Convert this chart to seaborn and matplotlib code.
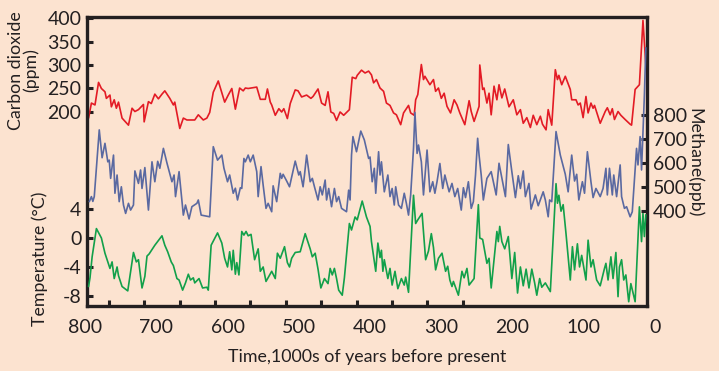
import matplotlib
matplotlib.use("Agg")
import matplotlib.pyplot as plt
import matplotlib.transforms as mtransforms
import seaborn as sns
import pandas as pd

# ---------------- data (time in thousands of years before present) ----------------
co2_time = [795, 791, 786, 781, 777, 772, 770, 765, 763, 759, 756, 753, 748, 739, 734, 730, 725, 718, 717,
            711, 707, 702, 697, 692, 688, 681, 676, 674, 667, 662, 657, 646, 641, 634, 629, 625, 620, 613,
            604, 599, 594, 589, 583, 578, 575, 571, 559, 554, 547, 544, 540, 538, 533, 528, 524, 521, 516,
            512, 505, 501, 496, 489, 483, 480, 473, 468, 463, 459, 455, 451, 447, 442, 437, 429, 425, 420,
            418, 412, 407, 402, 398, 395, 391, 386, 381, 377, 372, 367, 363, 357, 353, 346, 343, 338, 336,
            333, 328, 325, 323, 316, 311, 308, 304, 300, 296, 292, 287, 282, 278, 274, 267, 261, 258, 254,
            247, 246, 242, 240, 236, 233, 230, 226, 222, 219, 215, 211, 205, 199, 194, 189, 185, 180, 175,
            171, 166, 161, 158, 153, 150, 145, 140, 137, 135, 131, 126, 119, 117, 111, 108, 105, 101, 97,
            94, 90, 87, 85, 77, 70, 67, 63, 60, 57, 52, 48, 42, 35, 33, 28, 22, 17, 13]
co2_ppm = [187, 219, 215, 263, 250, 243, 229, 236, 211, 226, 208, 221, 187, 172, 208, 201, 205, 216, 179,
           222, 218, 238, 228, 238, 245, 229, 215, 221, 165, 187, 183, 183, 194, 183, 187, 199, 242, 266,
           221, 236, 250, 206, 251, 245, 251, 250, 253, 227, 227, 249, 221, 215, 193, 207, 200, 207, 186,
           218, 247, 245, 232, 236, 229, 233, 249, 219, 214, 243, 200, 197, 182, 200, 193, 205, 274, 271,
           278, 289, 283, 287, 279, 262, 269, 251, 244, 219, 214, 198, 194, 173, 198, 214, 198, 193, 226,
           237, 301, 269, 276, 258, 269, 244, 251, 229, 240, 212, 198, 226, 215, 198, 173, 224, 201, 180,
           212, 300, 248, 251, 219, 240, 194, 255, 226, 258, 230, 249, 211, 226, 194, 205, 176, 188, 167,
           193, 173, 191, 174, 162, 205, 172, 290, 269, 278, 258, 276, 248, 226, 226, 215, 219, 188, 233,
           198, 219, 208, 214, 176, 201, 209, 194, 207, 184, 201, 193, 184, 174, 172, 248, 258, 395, 300]

ch4_time = [794, 791, 789, 787, 780, 776, 772, 768, 766, 764, 760, 758, 755, 752, 749, 746, 743, 739, 736,
            732, 730, 725, 722, 720, 716, 711, 706, 702, 698, 695, 690, 685, 678, 675, 673, 668, 662, 659,
            654, 650, 643, 641, 637, 625, 620, 614, 608, 605, 600, 597, 592, 589, 586, 582, 580, 577, 575,
            571, 568, 564, 559, 557, 553, 550, 546, 543, 538, 536, 531, 526, 524, 522, 517, 513, 505, 500,
            498, 494, 492, 489, 484, 481, 478, 473, 470, 467, 463, 461, 458, 454, 450, 447, 444, 440, 433,
            430, 428, 426, 424, 419, 413, 408, 402, 400, 397, 394, 392, 388, 386, 384, 380, 375, 372, 369,
            366, 364, 360, 356, 352, 349, 346, 343, 339, 337, 334, 332, 328, 325, 320, 316, 312, 309, 306,
            302, 298, 295, 289, 285, 281, 277, 272, 269, 266, 262, 258, 255, 252, 249, 247, 244, 241, 236,
            230, 227, 223, 219, 214, 210, 206, 201, 196, 192, 189, 185, 182, 177, 174, 168, 164, 157, 154,
            150, 148, 145, 139, 133, 126, 122, 117, 113, 110, 107, 102, 99, 95, 90, 87, 83, 77, 73, 69, 67,
            64, 60, 58, 54, 49, 47, 43, 40, 35, 32, 26, 24, 21, 19, 15, 13]
ch4_ppb = [439, 460, 440, 460, 738, 622, 682, 605, 612, 536, 633, 474, 550, 439, 501, 425, 390, 432, 404,
           425, 567, 515, 571, 494, 581, 404, 605, 522, 607, 578, 661, 600, 522, 550, 460, 564, 383, 425,
           367, 418, 432, 446, 383, 376, 668, 612, 633, 578, 522, 550, 474, 495, 446, 497, 494, 619, 605,
           633, 605, 633, 564, 460, 585, 508, 411, 432, 397, 505, 439, 557, 536, 553, 525, 501, 608, 550,
           564, 501, 550, 633, 522, 536, 501, 446, 501, 467, 529, 446, 494, 418, 494, 439, 460, 411, 397,
           487, 446, 633, 710, 647, 733, 696, 619, 625, 522, 578, 474, 647, 550, 605, 480, 550, 460, 494,
           425, 501, 425, 411, 474, 432, 383, 467, 661, 811, 640, 675, 605, 467, 654, 480, 522, 474, 522,
           598, 494, 550, 480, 515, 460, 494, 404, 497, 456, 522, 411, 439, 550, 703, 633, 550, 446, 536,
           564, 522, 467, 599, 522, 460, 677, 564, 456, 547, 494, 567, 460, 515, 408, 467, 422, 480, 446,
           376, 446, 439, 731, 633, 553, 480, 633, 525, 553, 446, 522, 474, 647, 522, 456, 494, 460, 494,
           578, 467, 578, 467, 550, 460, 592, 460, 411, 418, 376, 397, 661, 592, 710, 571, 883, 1080]

temp_time = [795, 793, 790, 784, 777, 772, 769, 765, 762, 759, 755, 753, 748, 740, 732, 728, 725, 720, 716,
             713, 710, 702, 692, 688, 684, 679, 676, 671, 668, 663, 659, 655, 652, 648, 646, 640, 635, 629,
             627, 623, 614, 608, 604, 600, 597, 594, 592, 589, 587, 584, 580, 577, 574, 571, 567, 562, 557,
             554, 550, 546, 542, 538, 533, 530, 526, 520, 516, 513, 510, 505, 498, 491, 484, 481, 477, 473,
             469, 464, 459, 456, 453, 450, 447, 444, 439, 436, 429, 426, 421, 418, 411, 405, 400, 398, 392,
             389, 386, 384, 382, 380, 375, 372, 369, 365, 361, 356, 352, 350, 346, 339, 336, 333, 327, 322,
             318, 314, 311, 308, 304, 299, 294, 291, 288, 285, 283, 276, 271, 268, 264, 261, 254, 248, 246,
             242, 236, 233, 230, 222, 220, 218, 215, 211, 206, 201, 197, 193, 189, 185, 181, 177, 173, 169,
             166, 162, 159, 154, 147, 139, 137, 135, 132, 129, 125, 119, 116, 113, 109, 106, 103, 97, 94,
             90, 87, 82, 77, 71, 69, 66, 62, 59, 55, 52, 50, 47, 44, 41, 37, 34, 28, 22, 19, 17, 15, 13]
temp_c = [-6.7, -5.5, -2.6, 1.3, 0.0, -2.1, -3.0, -4.2, -3.3, -5.6, -4.0, -5.2, -6.7, -7.3, -2.0, -3.3, -3.0,
          -6.9, -5.3, -2.5, -2.2, -1.0, 0.3, -1.0, -1.9, -3.3, -3.8, -5.6, -5.8, -7.2, -6.2, -5.0, -5.8, -5.5,
          -6.2, -5.6, -6.9, -6.8, -7.2, -1.0, 0.7, -0.7, -2.8, -4.0, -1.9, -4.4, -1.7, -5.0, -3.4, -5.1, 0.9,
          0.4, 0.9, 0.3, 0.5, -3.0, -1.5, -4.6, -4.0, -6.0, -5.3, -4.6, -5.6, -2.1, -2.8, -1.2, -3.4, -4.0,
          -2.8, -2.0, -1.9, 0.6, -1.5, -2.6, -2.1, -4.3, -6.9, -5.6, -6.3, -4.2, -5.1, -4.2, -5.6, -7.2, -7.9,
          -5.5, 2.0, 1.1, 2.9, 2.5, 5.1, 2.9, 1.6, -0.5, -4.6, -0.7, -2.7, -1.7, -4.6, -3.0, -5.6, -4.2, -6.5,
          -4.6, -7.0, -5.6, -6.5, -5.4, -7.5, 5.9, 2.0, 2.5, 3.4, -3.0, -1.8, 0.6, -1.3, -4.4, -2.8, -2.1,
          -4.6, -3.9, -5.8, -6.7, -6.0, -7.9, -4.6, -5.5, -4.2, -6.5, -5.6, 4.6, 0.0, -0.2, -3.5, -2.8, -6.9,
          0.9, -0.5, 1.6, -0.5, -1.5, 0.2, -5.6, -2.0, -7.6, -4.0, -6.6, -4.3, -6.9, -4.3, -6.2, -7.9, -5.6,
          -6.8, -6.2, -7.4, 7.5, 4.8, 5.9, 3.7, 4.6, 0.6, -5.8, -1.2, -4.4, -0.8, -4.0, -2.4, -5.8, -0.3,
          -4.0, -3.0, -5.8, -6.6, -4.2, -3.5, -5.8, -2.6, -5.6, -2.0, -8.1, -4.0, -3.0, -5.8, -5.1, -8.8,
          -6.3, -8.8, 4.3, -0.5, 3.4, 0.2, 3.2]

co2_ticks = [200, 250, 300, 350, 400]
ch4_ticks = [400, 500, 600, 700, 800]
temp_ticks = [-8, -4, 0, 4]
time_labels = [800, 700, 600, 500, 400, 300, 200, 100, 0]
time_tick_marks = [767, 717, 667, 618, 568, 518, 469, 418, 369, 320, 270]

# ---------------- style ----------------
BG = "#FCE3D0"
INK = "#231F20"
RED = "#E31B25"
BLUE = "#5A69A1"
GREEN = "#12A04A"

sns.set_style("white")
plt.rcParams["font.family"] = ["Lato", "DejaVu Sans"]
plt.rcParams["text.color"] = INK

fig = plt.figure(figsize=(7.19, 3.71), dpi=100)
fig.patch.set_facecolor(BG)
ax = fig.add_axes([0.121, 0.175, 0.779, 0.779])
ax.set_facecolor(BG)
ax_t = ax.twinx()
ax_m = ax.twinx()
for a in (ax_t, ax_m):
    a.set_facecolor("none")

df_co2 = pd.DataFrame({"time": co2_time, "value": co2_ppm})
df_ch4 = pd.DataFrame({"time": ch4_time, "value": ch4_ppb})
df_t = pd.DataFrame({"time": temp_time, "value": temp_c})

lw = 1.2
sns.lineplot(data=df_co2, x="time", y="value", ax=ax, color=RED, lw=lw, estimator=None)
sns.lineplot(data=df_ch4, x="time", y="value", ax=ax_m, color=BLUE, lw=lw, estimator=None)
sns.lineplot(data=df_t, x="time", y="value", ax=ax_t, color=GREEN, lw=lw, estimator=None)

for a in (ax, ax_t, ax_m):
    a.set_xlim(797.2, 11.2)
    a.set_xlabel("")
    a.set_ylabel("")

ax.set_ylim(-213, 402)
ax_t.set_ylim(-9.4, 30.5)
ax_m.set_ylim(4, 1208)

# spines
for a in (ax, ax_t, ax_m):
    for s in a.spines.values():
        s.set_visible(False)
for side in ("left", "right", "top", "bottom"):
    ax.spines[side].set_visible(True)
    ax.spines[side].set_linewidth(2.4)
    ax.spines[side].set_color(INK)

tick_kw = dict(direction="in", length=4.5, width=2.2, color=INK, labelsize=14, labelcolor=INK, pad=4)

# CO2 axis (left)
ax.set_yticks(co2_ticks)
ax.set_yticklabels([str(v) for v in co2_ticks])
ax.tick_params(axis="y", which="major", left=True, right=False, **tick_kw)

# temperature axis (left)
ax_t.yaxis.tick_left()
ax_t.set_yticks(temp_ticks)
ax_t.set_yticklabels([str(v) for v in temp_ticks])
ax_t.tick_params(axis="y", which="major", left=True, right=False, labelleft=True, labelright=False, **tick_kw)

# methane axis (right)
ax_m.yaxis.tick_right()
ax_m.set_yticks(ch4_ticks)
ax_m.set_yticklabels([str(v) for v in ch4_ticks])
ax_m.tick_params(axis="y", which="major", right=True, left=False, labelright=True, labelleft=False, **tick_kw)

# time axis
ax.set_xticks(time_tick_marks)
ax.set_xticklabels([])
ax.tick_params(axis="x", which="major", bottom=True, top=False, direction="in", length=4.5, width=2.2, color=INK)
for a in (ax_t, ax_m):
    a.tick_params(axis="x", bottom=False, top=False, labelbottom=False)

trans = mtransforms.blended_transform_factory(ax.transData, ax.transAxes)
for v in time_labels:
    ax.text(v, -0.073, str(v), transform=trans, ha="center", va="center", fontsize=14,
            color=INK, clip_on=False)

LBL = 12.8
ax.set_xlabel("Time,1000s of years before present", fontsize=LBL, color=INK, va="center")
ax.xaxis.set_label_coords(0.5, -0.176)

ax.set_ylabel("Carbon dioxide\n(ppm)", fontsize=LBL, color=INK, va="center", ha="center",
              linespacing=0.95)
ax.yaxis.set_label_coords(-0.113, 0.815)

ax_t.set_ylabel("Temperature (°C)", fontsize=LBL, color=INK, va="center", ha="center")
ax_t.yaxis.set_label_position("left")
ax_t.yaxis.set_label_coords(-0.070, 0.163)

ax_m.set_ylabel("Methane(ppb)", fontsize=LBL, color=INK, rotation=-90, va="center", ha="center")
ax_m.yaxis.set_label_position("right")
ax_m.yaxis.set_label_coords(1.1, 0.495)

fig.savefig("out.png", dpi=100, facecolor=BG)
